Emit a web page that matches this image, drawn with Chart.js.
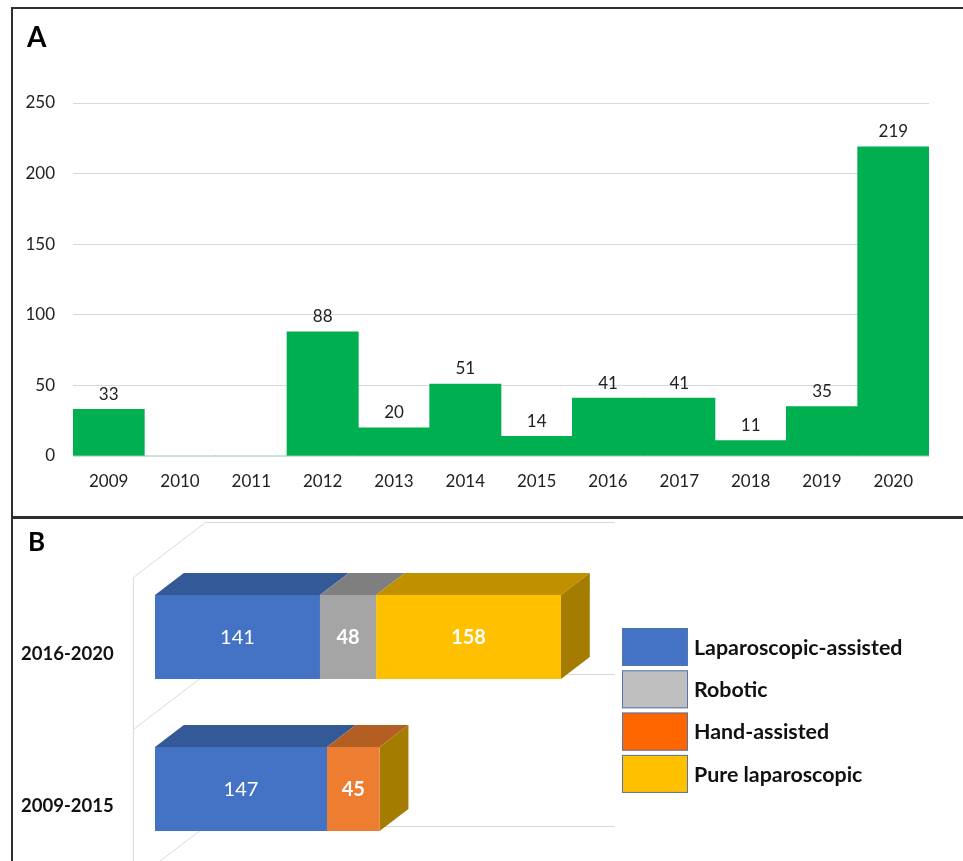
<!DOCTYPE html>
<html lang="en">
  <head>
    <meta charset="utf-8" />
    <meta name="viewport" content="width=device-width, initial-scale=1" />
    <title>Cases by year and by approach</title>
    <style>
      * {
        margin: 0;
        padding: 0;
      }
      body {
        width: 963px;
        height: 861px;
        overflow: hidden;
        background: #fff;
        position: relative;
        font-family: Lato, sans-serif;
      }
      canvas {
        position: absolute;
        left: 0;
      }
      #yearChart {
        top: 0;
      }
      #approachChart {
        top: 517px;
      }
      .tag {
        position: absolute;
        font-weight: bold;
        line-height: 1.2;
        color: #000;
      }
      .rule {
        position: absolute;
        background: #2e2e2e;
      }
    </style>
  </head>
  <body>
    <canvas id="yearChart" width="963" height="517"></canvas>
    <canvas id="approachChart" width="963" height="370"></canvas>

    <div class="tag" style="left: 27px; top: 20px; font-size: 28px">A</div>
    <div class="tag" style="left: 28px; top: 526px; font-size: 26px">B</div>

    <div class="rule" style="left: 11px; top: 7px; width: 2px; height: 854px"></div>
    <div class="rule" style="left: 11px; top: 7px; width: 952px; height: 1.5px"></div>
    <div class="rule" style="left: 11px; top: 516px; width: 952px; height: 2.5px"></div>

    <script src="https://cdn.jsdelivr.net/npm/chart.js@4.4.1/dist/chart.umd.min.js"></script>

    <script>
      // cases per year
      const years = ["2009", "2010", "2011", "2012", "2013", "2014", "2015", "2016", "2017", "2018", "2019", "2020"];
      const casesPerYear = [33, 0, 0, 88, 20, 51, 14, 41, 41, 11, 35, 219];
      const yearTicks = [0, 50, 100, 150, 200, 250];

      // cases by approach, per period
      const periods = ["2009-2015", "2016-2020"];
      const approaches = ["Laparoscopic-assisted", "Robotic", "Hand-assisted", "Pure laparoscopic"];
      const laparoscopicAssisted = [147, 141];
      const robotic = [0, 48];
      const handAssisted = [45, 0];
      const pureLaparoscopic = [0, 158];
      const approachAxisMax = 350;

      Chart.defaults.font.family = "Lato, sans-serif";
      Chart.defaults.animation = false;

      const textColor = "#222222";
      const gridColor = "#d9d9d9";

      // value above each bar
      const barValues = {
        id: "barValues",
        afterDatasetsDraw(chart) {
          const { ctx, data } = chart;
          ctx.save();
          ctx.font = "17px Lato, sans-serif";
          ctx.fillStyle = textColor;
          ctx.textAlign = "center";
          ctx.textBaseline = "middle";
          chart.getDatasetMeta(0).data.forEach((bar, i) => {
            const v = data.datasets[0].data[i];
            if (!v) return;
            ctx.fillText(v, bar.x, bar.y - 15);
          });
          ctx.restore();
        },
      };

      new Chart(document.getElementById("yearChart"), {
        type: "bar",
        data: {
          labels: years,
          datasets: [
            {
              data: casesPerYear,
              backgroundColor: "#00b050",
              barPercentage: 1,
              categoryPercentage: 1,
            },
          ],
        },
        options: {
          responsive: false,
          layout: { padding: { left: 13, right: 34, top: 103, bottom: 21 } },
          plugins: { legend: { display: false }, tooltip: { enabled: false } },
          scales: {
            x: {
              grid: { display: false },
              border: { display: false },
              ticks: { color: textColor, font: { size: 17 }, padding: 7, maxRotation: 0, autoSkip: false },
              afterFit: (scale) => {
                scale.height = 40;
              },
            },
            y: {
              min: yearTicks[0],
              max: yearTicks[yearTicks.length - 1],
              ticks: { stepSize: yearTicks[1] - yearTicks[0], color: textColor, font: { size: 17 }, padding: 18 },
              grid: { color: gridColor, drawTicks: false },
              border: { display: false },
              afterFit: (scale) => {
                scale.width = 60;
              },
            },
          },
        },
        plugins: [barValues],
      });

      // ---- 3D stacked bars ----
      // depth of the whole plot box, and where the bars sit inside it
      const depth = { dx: 72, dy: -55 };
      const wallFront = -0.3;
      const barBack = 0.4;
      const wallBack = 0.7;

      const frontColors = ["#4472c4", "#a5a5a5", "#ed7d31", "#ffc000"];
      const topColors = ["#335a96", "#7f7f7f", "#b35e22", "#c09000"];
      const sideColor = "#a47c00";
      const legendColors = ["#4472c4", "#bfbfbf", "#ff6600", "#ffc000"];
      const boldValues = [false, true, true, true];

      const depthBox = {
        id: "depthBox",
        beforeDatasetsDraw(chart) {
          const { ctx, chartArea: { left, top, bottom }, scales: { x }, data } = chart;
          const n = data.labels.length;
          const band = (bottom - top) / n;
          const fx = depth.dx * wallFront, fy = depth.dy * wallFront;
          const bx = depth.dx * wallBack, by = depth.dy * wallBack;
          const wallRight = x.getPixelForValue(approachAxisMax);

          ctx.save();
          ctx.strokeStyle = gridColor;
          ctx.lineWidth = 1;
          ctx.beginPath();
          ctx.moveTo(left + fx, top + fy);
          ctx.lineTo(left + fx, bottom + fy + 40);
          for (let k = 0; k <= n; k++) {
            const yb = top + k * band;
            ctx.moveTo(left + fx, yb + fy);
            ctx.lineTo(left + bx, yb + by);
            ctx.lineTo(wallRight + bx, yb + by);
          }
          ctx.stroke();

          // top faces of every segment, side face at the end of each stack
          const ox = depth.dx * barBack, oy = depth.dy * barBack;
          const ends = [];
          data.datasets.forEach((ds, di) => {
            chart.getDatasetMeta(di).data.forEach((bar, i) => {
              if (!ds.data[i]) return;
              const ty = bar.y - bar.height / 2;
              ctx.fillStyle = topColors[di];
              ctx.beginPath();
              ctx.moveTo(bar.base, ty);
              ctx.lineTo(bar.x, ty);
              ctx.lineTo(bar.x + ox, ty + oy);
              ctx.lineTo(bar.base + ox, ty + oy);
              ctx.closePath();
              ctx.fill();
              if (!ends[i] || bar.x > ends[i].x) ends[i] = bar;
            });
          });
          ends.forEach((bar) => {
            const ty = bar.y - bar.height / 2, byy = bar.y + bar.height / 2;
            ctx.fillStyle = sideColor;
            ctx.beginPath();
            ctx.moveTo(bar.x, ty);
            ctx.lineTo(bar.x + ox, ty + oy);
            ctx.lineTo(bar.x + ox, byy + oy);
            ctx.lineTo(bar.x, byy);
            ctx.closePath();
            ctx.fill();
          });
          ctx.restore();
        },
        afterDatasetsDraw(chart) {
          const { ctx, data } = chart;
          ctx.save();
          ctx.fillStyle = "#ffffff";
          ctx.textAlign = "center";
          ctx.textBaseline = "middle";
          data.datasets.forEach((ds, di) => {
            ctx.font = (boldValues[di] ? "bold " : "") + "20px Lato, sans-serif";
            chart.getDatasetMeta(di).data.forEach((bar, i) => {
              if (!ds.data[i]) return;
              ctx.fillText(ds.data[i], (bar.x + bar.base) / 2, bar.y + 1);
            });
          });
          ctx.restore();
        },
      };

      // legend block to the right of the plot box
      const sideLegend = {
        id: "sideLegend",
        afterDraw(chart) {
          const { ctx, data } = chart;
          const x0 = 622, y0 = 111, step = 42.3, w = 66, h = 38;
          ctx.save();
          ctx.font = "bold 21.4px Lato, sans-serif";
          ctx.textAlign = "left";
          ctx.textBaseline = "middle";
          data.datasets.forEach((ds, di) => {
            const y = y0 + di * step;
            ctx.fillStyle = legendColors[di];
            ctx.fillRect(x0, y, w, h);
            ctx.strokeStyle = "#5574ab";
            ctx.lineWidth = 1;
            ctx.strokeRect(x0 + 0.5, y + 0.5, w - 1, h - 1);
            ctx.fillStyle = "#111111";
            ctx.fillText(ds.label, x0 + w + 6, y + h / 2 + 1);
          });
          ctx.restore();
        },
      };

      const approachSeries = [laparoscopicAssisted, robotic, handAssisted, pureLaparoscopic];

      new Chart(document.getElementById("approachChart"), {
        type: "bar",
        data: {
          labels: periods,
          datasets: approachSeries.map((values, di) => ({
            label: approaches[di],
            data: values,
            backgroundColor: frontColors[di],
            barPercentage: 0.553,
            categoryPercentage: 1,
          })),
        },
        options: {
          indexAxis: "y",
          responsive: false,
          layout: { padding: { left: 21, right: 398.5, top: 44, bottom: 22 } },
          plugins: { legend: { display: false }, tooltip: { enabled: false } },
          scales: {
            x: { stacked: true, display: false, min: 0, max: approachAxisMax },
            y: {
              stacked: true,
              reverse: true,
              grid: { display: false, drawTicks: false },
              border: { display: false },
              ticks: {
                color: "#111111",
                font: { size: 18.5, weight: "bold" },
                padding: 0,
                crossAlign: "far",
                labelOffset: 17,
              },
              afterFit: (scale) => {
                scale.width = 134;
              },
            },
          },
        },
        plugins: [depthBox, sideLegend],
      });
    </script>
  </body>
</html>
